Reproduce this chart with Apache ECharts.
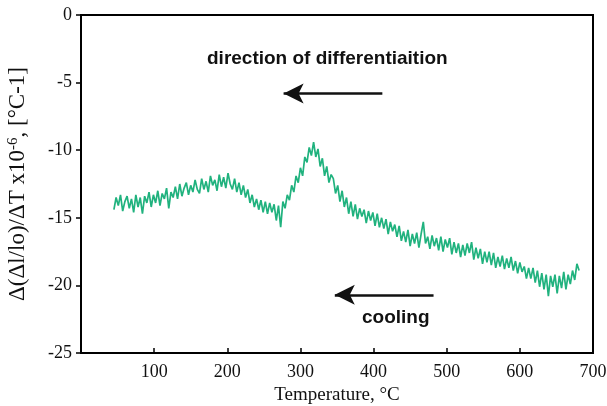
<!DOCTYPE html>
<html>
<head>
<meta charset="utf-8">
<script src="https://cdn.jsdelivr.net/npm/echarts@6/dist/echarts.min.js"></script>
<style>html,body{margin:0;padding:0;background:#fff;}#c{width:607px;height:406px;}</style>
</head>
<body>
<div id="c"></div>
<script>
const temps = [
 45,48,51,54,57,60,63,66,69,72, 75,78,81,84,87,90,93,96,99,102,
 105,108,111,114,117,120,123,126,129,132, 135,138,141,144,147,150,153,156,159,162,
 165,168,171,174,177,180,183,186,189,192, 195,198,201,204,207,210,213,216,219,222,
 225,228,231,234,237,240,243,246,249,252, 255,258,261,264,267,270,273,276,279,282,
 285,288,291,294,297,300,303,306,309,312, 315,318,321,324,327,330,333,336,339,342,
 345,348,351,354,357,360,363,366,369,372, 375,378,381,384,387,390,393,396,399,402,
 405,408,411,414,417,420,423,426,429,432, 435,438,441,444,447,450,453,456,459,462,
 465,468,471,474,477,480,483,486,489,492, 495,498,501,504,507,510,513,516,519,522,
 525,528,531,534,537,540,543,546,549,552, 555,558,561,564,567,570,573,576,579,582,
 585,588,591,594,597,600,603,606,609,612, 615,618,621,624,627,630,633,636,639,642,
 645,648,651,654,657,660,663,666,669,672, 675,678,681
];
const expansionRate = [
 -14.4,-13.5,-14.1,-13.3,-14.5,-13.8,-13.4,-14.3,-13.6,-14.6,
 -13.3,-14.2,-13.5,-14.7,-13.4,-13.9,-13.1,-14.2,-13.3,-13.9,
 -13.0,-14.1,-13.2,-13.6,-12.8,-14.3,-13.1,-13.5,-12.7,-13.6,
 -12.5,-13.4,-12.8,-12.4,-13.3,-12.6,-13.1,-12.2,-12.9,-13.2,
 -12.1,-12.9,-12.3,-13.1,-11.9,-12.6,-12.2,-13.0,-11.8,-12.7,
 -12.0,-12.8,-11.7,-12.5,-12.9,-12.1,-13.1,-12.4,-13.3,-12.6,
 -13.5,-12.9,-13.9,-13.3,-14.2,-13.6,-14.4,-13.7,-14.6,-13.8,
 -14.7,-13.9,-14.6,-14.0,-15.2,-14.1,-15.7,-13.8,-14.3,-13.3,
 -13.7,-12.6,-13.1,-11.9,-12.4,-11.3,-11.9,-10.5,-10.9,-9.8,
 -10.4,-9.4,-10.5,-9.9,-11.2,-10.6,-11.9,-11.2,-12.4,-11.8,
 -12.1,-13.2,-12.6,-13.8,-13.0,-14.2,-13.5,-14.7,-13.8,-14.9,
 -14.0,-15.1,-14.3,-14.9,-14.4,-15.4,-14.5,-15.2,-14.6,-15.6,
 -14.7,-15.7,-15.0,-15.8,-15.1,-16.2,-15.3,-16.0,-15.5,-16.4,
 -15.6,-16.7,-16.0,-16.8,-15.9,-17.1,-16.2,-16.9,-16.1,-17.2,
 -16.2,-15.3,-16.9,-16.4,-17.3,-16.3,-17.1,-16.5,-17.4,-16.4,
 -17.5,-16.6,-17.2,-16.5,-17.7,-16.8,-17.6,-16.9,-17.9,-17.0,
 -17.8,-16.9,-17.6,-16.8,-18.1,-17.2,-18.0,-17.3,-18.4,-17.5,
 -18.3,-17.5,-18.5,-17.6,-18.7,-17.9,-18.6,-17.8,-18.8,-18.0,
 -18.7,-17.9,-18.9,-18.2,-19.1,-18.3,-19.0,-18.6,-19.5,-18.7,
 -19.5,-18.7,-19.8,-18.9,-20.1,-19.1,-20.3,-19.2,-20.8,-19.3,
 -20.1,-19.2,-20.6,-19.3,-20.2,-19.0,-20.3,-19.2,-19.9,-18.9,
 -19.6,-18.4,-18.9
];
const xTicks = [0,100,200,300,400,500,600,700];
const yTicks = [0,-5,-10,-15,-20,-25];
const arrowDirection = [[412,-5.8],[277,-5.8]];
const arrowCooling = [[482,-20.7],[347,-20.7]];

const chart = echarts.init(document.getElementById('c'), null, {renderer:'canvas'});
const serif = '"Liberation Serif","Times New Roman",serif';
const sans = '"Liberation Sans",Arial,sans-serif';
const arrowLine = (pts) => [{coord:pts[0], symbol:'none'},{coord:pts[1], symbol:'arrow', symbolSize:[15,20]}];
chart.setOption({
  animation:false,
  backgroundColor:'#fff',
  grid:{left:81, right:14, top:15, bottom:53, containLabel:false, outerBoundsMode:'none', show:true, borderColor:'#000', borderWidth:2},
  xAxis:{
    type:'value', min:xTicks[0], max:xTicks[xTicks.length-1], interval:100,
    name:'Temperature, °C', nameLocation:'middle', nameGap:31,
    nameTextStyle:{fontFamily:serif, fontSize:19, color:'#111'},
    axisLine:{onZero:false, lineStyle:{color:'#000', width:2}},
    axisTick:{inside:true, length:5, lineStyle:{color:'#000', width:1.5}},
    axisLabel:{fontFamily:serif, fontSize:18, color:'#111', margin:10, showMinLabel:false},
    splitLine:{show:false}
  },
  yAxis:{
    type:'value', min:yTicks[yTicks.length-1], max:yTicks[0], interval:5,
    name:'Δ(Δl/lo)/ΔT x10{sup|-6}, [°C-1]', nameLocation:'middle', nameGap:52,
    nameTextStyle:{fontFamily:serif, fontSize:23, color:'#111', rich:{sup:{fontFamily:serif, fontSize:15, verticalAlign:'top', color:'#111'}}},
    axisLine:{onZero:false, lineStyle:{color:'#000', width:2}},
    axisTick:{inside:false, length:5, lineStyle:{color:'#000', width:1.5}},
    axisLabel:{fontFamily:serif, fontSize:18, color:'#111', margin:9},
    splitLine:{show:false}
  },
  series:[{
    type:'line',
    data:temps.map((t,i)=>[t, expansionRate[i]]),
    showSymbol:false,
    lineStyle:{color:'#20b27e', width:1.7},
    markLine:{
      silent:true,
      lineStyle:{color:'#111', width:2.5, type:'solid'},
      label:{show:false},
      data:[arrowLine(arrowDirection), arrowLine(arrowCooling)]
    }
  }],
  graphic:[
    {type:'text', left:207, top:49, style:{text:'direction of differentiaition', font:'bold 19px '+sans, fill:'#111'}},
    {type:'text', left:362, top:308, style:{text:'cooling', font:'bold 19px '+sans, fill:'#111'}}
  ]
});
</script>
</body>
</html>
